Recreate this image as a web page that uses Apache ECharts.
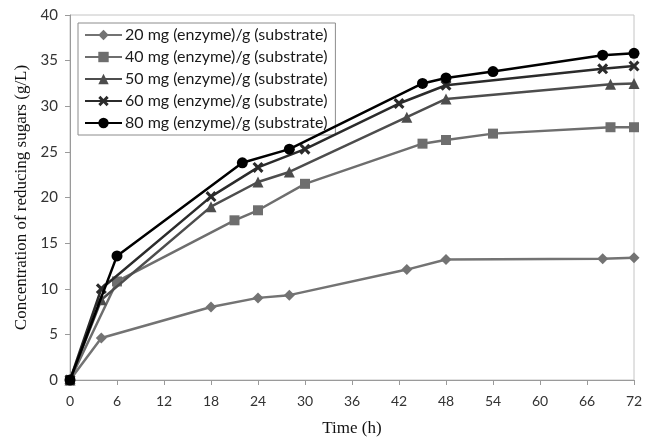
<!DOCTYPE html>
<html>
<head>
<meta charset="utf-8">
<script src="https://cdn.jsdelivr.net/npm/echarts@6/dist/echarts.min.js"></script>
<style>html,body{margin:0;padding:0;background:#fff;}#c{width:656px;height:442px;}</style>
</head>
<body>
<div id="c"></div>
<script>
var xTicks = [0, 6, 12, 18, 24, 30, 36, 42, 48, 54, 60, 66, 72];
var yTicks = [0, 5, 10, 15, 20, 25, 30, 35, 40];
var seriesNames = [
  '20 mg (enzyme)/g (substrate)',
  '40 mg (enzyme)/g (substrate)',
  '50 mg (enzyme)/g (substrate)',
  '60 mg (enzyme)/g (substrate)',
  '80 mg (enzyme)/g (substrate)'
];
var t20 = [0, 4, 18, 24, 28, 43, 48, 68, 72];
var v20 = [0, 4.6, 8.0, 9.0, 9.3, 12.1, 13.2, 13.3, 13.4];
var t40 = [0, 6, 21, 24, 30, 45, 48, 54, 69, 72];
var v40 = [0, 10.8, 17.5, 18.6, 21.5, 25.9, 26.3, 27.0, 27.7, 27.7];
var t50 = [0, 4, 18, 24, 28, 43, 48, 69, 72];
var v50 = [0, 8.8, 19.0, 21.7, 22.8, 28.8, 30.8, 32.4, 32.5];
var t60 = [0, 4, 18, 24, 30, 42, 48, 68, 72];
var v60 = [0, 10.0, 20.1, 23.3, 25.3, 30.3, 32.3, 34.1, 34.4];
var t80 = [0, 6, 22, 28, 45, 48, 54, 68, 72];
var v80 = [0, 13.6, 23.8, 25.3, 32.5, 33.1, 33.8, 35.6, 35.8];

function pairs(t, v) { return t.map(function (x, i) { return [x, v[i]]; }); }

var xPath = 'path://M0,2 L2,0 L5,3 L8,0 L10,2 L7,5 L10,8 L8,10 L5,7 L2,10 L0,8 L3,5 Z';
var styles = [
  { color: '#737373', symbol: 'diamond', size: 11 },
  { color: '#6e6e6e', symbol: 'rect', size: 10 },
  { color: '#4d4d4d', symbol: 'triangle', size: 11 },
  { color: '#2b2b2b', symbol: xPath, size: 11 },
  { color: '#000000', symbol: 'circle', size: 11 }
];
var datasets = [pairs(t20, v20), pairs(t40, v40), pairs(t50, v50), pairs(t60, v60), pairs(t80, v80)];

var series = datasets.map(function (d, i) {
  var s = styles[i];
  return {
    name: seriesNames[i],
    type: 'line',
    data: d,
    symbol: s.symbol,
    symbolSize: s.size,
    showAllSymbol: true,
    lineStyle: { color: s.color, width: 2.5 },
    itemStyle: { color: s.color, borderColor: s.color, borderWidth: 0 },
    emphasis: { disabled: true },
    z: 2 + i
  };
});

var chart = echarts.init(document.getElementById('c'), null, { renderer: 'canvas' });
chart.setOption({
  animation: false,
  backgroundColor: '#ffffff',
  grid: { left: 70, right: 22, top: 15, bottom: 59, show: true, borderColor: '#c4c4c4', borderWidth: 1, backgroundColor: 'transparent' },
  legend: {
    left: 78, top: 23, orient: 'vertical',
    itemWidth: 37, itemHeight: 13, itemGap: 6,
    padding: [4, 8, 4, 6],
    borderColor: '#8c8c8c', borderWidth: 1, backgroundColor: '#ffffff',
    textStyle: { fontFamily: 'Lato', fontSize: 16, color: '#1a1a1a', padding: [0, 0, 0, -2] },
    data: seriesNames
  },
  xAxis: {
    type: 'value', min: 0, max: 72, interval: 6,
    name: 'Time (h)', nameLocation: 'middle', nameGap: 40,
    nameTextStyle: { fontFamily: 'Liberation Serif', fontSize: 17, color: '#111' },
    axisLine: { show: true, lineStyle: { color: '#9a9a9a', width: 1 } },
    axisTick: { show: true, length: 5, lineStyle: { color: '#9a9a9a' } },
    axisLabel: { margin: 14, fontFamily: 'Lato', fontSize: 14, color: '#333',
      formatter: function (v) { return xTicks.indexOf(v) >= 0 ? String(v) : ''; } },
    splitLine: { show: false }
  },
  yAxis: {
    type: 'value', min: 0, max: 40, interval: 5,
    name: 'Concentration of reducing sugars (g/L)', nameLocation: 'middle', nameGap: 40,
    nameTextStyle: { fontFamily: 'Liberation Serif', fontSize: 17, color: '#111' },
    axisLine: { show: true, lineStyle: { color: '#9a9a9a', width: 1 } },
    axisTick: { show: true, length: 5, lineStyle: { color: '#9a9a9a' } },
    axisLabel: { margin: 12, fontFamily: 'Lato', fontSize: 15, color: '#333',
      formatter: function (v) { return yTicks.indexOf(v) >= 0 ? String(v) : ''; } },
    splitLine: { show: false }
  },
  series: series
});
</script>
</body>
</html>
